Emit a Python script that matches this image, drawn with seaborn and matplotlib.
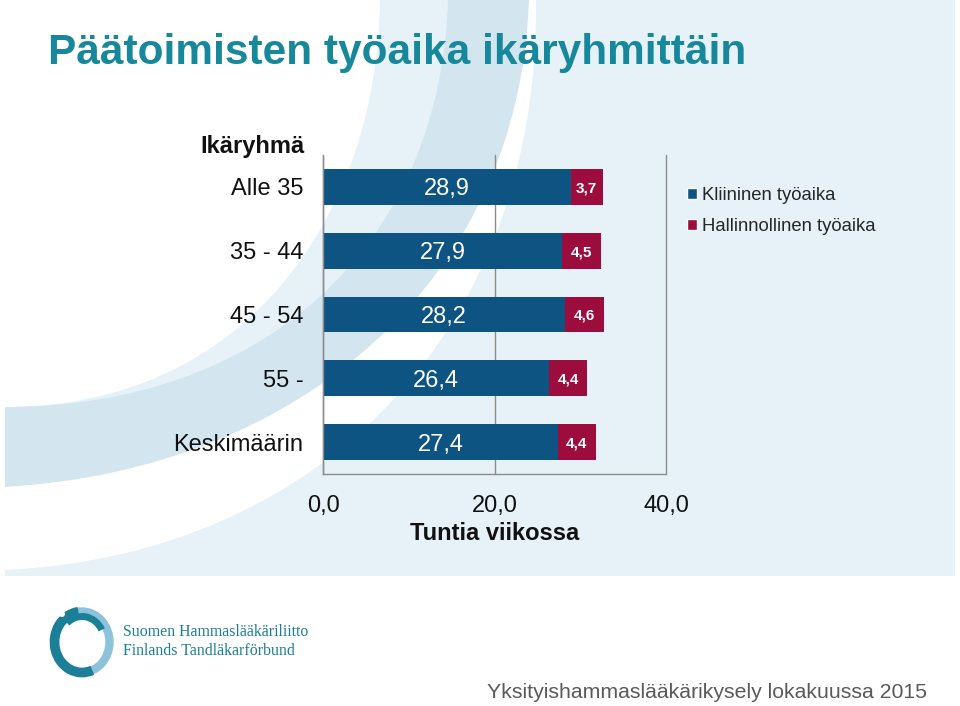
import numpy as np
import pandas as pd
import matplotlib
matplotlib.use("Agg")
import matplotlib.pyplot as plt
import seaborn as sns
from matplotlib.path import Path
from matplotlib.patches import PathPatch, Rectangle, Ellipse, Arc, Patch
from matplotlib.ticker import FuncFormatter, FixedLocator

# ---- data ----
categories = ["Alle 35", "35 - 44", "45 - 54", "55 -", "Keskimäärin"]
clinical = [28.9, 27.9, 28.2, 26.4, 27.4]
admin = [3.7, 4.5, 4.6, 4.4, 4.4]
series_names = ["Kliininen työaika", "Hallinnollinen työaika"]
x_ticks = [0, 20, 40]

title = "Päätoimisten työaika ikäryhmittäin"
y_title = "Ikäryhmä"
x_title = "Tuntia viikossa"
footer = "Yksityishammaslääkärikysely lokakuussa 2015"
org_lines = ["Suomen Hammaslääkäriliitto", "Finlands Tandläkarförbund"]

BLUE = "#0d5483"
RED = "#9c0c3d"
TEAL = "#17889b"
GRID = "#8c8c8c"

sns.set_style("white")
plt.rcParams["font.family"] = ["Liberation Sans", "DejaVu Sans"]

W, H = 960, 706
fig = plt.figure(figsize=(W / 100, H / 100), dpi=100)
fig.patch.set_facecolor("white")


def P(x, y):
    return (x / W, 1 - y / H)


def add_shape(verts, codes, color, z=-10):
    path = Path([P(*v) for v in verts], codes)
    patch = PathPatch(path, facecolor=color, edgecolor="none",
                      transform=fig.transFigure, zorder=z)
    fig.add_artist(patch)


M, C, L, CL = Path.MOVETO, Path.CURVE4, Path.LINETO, Path.CLOSEPOLY

# background panel
fig.add_artist(Rectangle(P(5, 576), 950 / W, 576 / H, facecolor="#e6f1f8",
                         edgecolor="none", transform=fig.transFigure, zorder=-12))
# white area top-left (left of curve A)
add_shape([(5, 0), (380, 0), (378, 210), (250, 407), (5, 407), (5, 0)],
          [M, L, C, C, C, CL], "white", z=-11)
# darker band between B and C
add_shape([(448, 0), (529, 0), (520, 280), (300, 470), (5, 487),
           (5, 407), (260, 407), (440, 250), (448, 0)],
          [M, L, C, C, C, L, C, C, C], "#d3e6f0", z=-10)
# white crescent between C and D
add_shape([(529, 0), (536, 0), (540, 330), (320, 555), (5, 570),
           (5, 487), (300, 470), (520, 280), (529, 0)],
          [M, L, C, C, C, L, C, C, C], "white", z=-9)

# ---- chart ----
df = pd.DataFrame({"Ikäryhmä": categories, "Kliininen": clinical,
                   "Hallinnollinen": admin})
df["Yhteensä"] = df["Kliininen"] + df["Hallinnollinen"]

ax = fig.add_axes([323 / W, 1 - 474 / H, 343 / W, 319 / H])
ax.patch.set_alpha(0)

sns.barplot(data=df, x="Yhteensä", y="Ikäryhmä", color=RED, width=0.56,
            saturation=1, orient="h", errorbar=None, linewidth=0, ax=ax)
sns.barplot(data=df, x="Kliininen", y="Ikäryhmä", color=BLUE, width=0.56,
            saturation=1, orient="h", errorbar=None, linewidth=0, ax=ax)

fmt = lambda v: f"{v:.1f}".replace(".", ",")
blabels = ax.bar_label(ax.containers[1], labels=[fmt(v) for v in clinical],
                       label_type="center", color="white", fontsize=17)
for t in blabels:
    t.set_va("center_baseline")
for i, (c, a) in enumerate(zip(clinical, admin)):
    ax.text(c + a / 2, i, fmt(a), ha="center", va="center_baseline",
            color="white", fontsize=11, fontweight="bold")

ax.set_xlim(0, 40)
ax.set_ylim(len(categories) - 0.5, -0.5)
ax.xaxis.set_major_locator(FixedLocator(x_ticks))
ax.xaxis.set_major_formatter(FuncFormatter(lambda v, p: fmt(v)))
ax.xaxis.grid(True, color=GRID, linewidth=1)
ax.yaxis.grid(False)
ax.set_axisbelow(True)
for gl in ax.get_xgridlines():
    gl.set_clip_on(False)

for s in ["top", "right"]:
    ax.spines[s].set_visible(False)
for s in ["left", "bottom"]:
    ax.spines[s].set_color(GRID)
    ax.spines[s].set_linewidth(1)

ax.tick_params(axis="x", which="major", direction="out", length=6, width=1,
               color=GRID, labelsize=17, pad=9, labelcolor="#111111")
ax.tick_params(axis="y", which="major", length=0, labelsize=17, pad=14,
               labelcolor="#111111")
ax.yaxis.set_minor_locator(FixedLocator(np.arange(-0.5, len(categories), 1.0)))
ax.tick_params(axis="y", which="minor", direction="out", length=6, width=1,
               color=GRID)

ax.set_ylabel(y_title, rotation=0, fontsize=17, fontweight="bold",
              ha="right", va="center", color="#111111")
ax.yaxis.set_label_coords(-18 / 343, (474 - 147) / 319)
ax.set_xlabel(x_title, fontsize=17, fontweight="bold", color="#111111")
ax.xaxis.label.set_va("center")
ax.xaxis.set_label_coords(0.5, (474 - 534) / 319)

handles = [Patch(facecolor=BLUE), Patch(facecolor=RED)]
ax.legend(handles=handles, labels=series_names, loc="center left",
          bbox_to_anchor=P(687, 211), bbox_transform=fig.transFigure,
          frameon=False, fontsize=13.3, handlelength=0.55, handleheight=0.55,
          handletextpad=0.25, labelspacing=0.72, borderaxespad=0, borderpad=0)

# ---- title & footer ----
fig.text(*P(48, 53), title, fontsize=30.5, fontweight="bold", color=TEAL,
         ha="left", va="center")
fig.text(*P(927, 692), footer, fontsize=15.3, color="#5a5a5a",
         ha="right", va="center")

# logo
cx, cy = P(82, 642)
fig.add_artist(Ellipse((cx, cy), 55 / W, 61 / H, facecolor="none",
                       edgecolor="#8cc2da", linewidth=6,
                       transform=fig.transFigure, zorder=5))
fig.add_artist(Arc((cx, cy), 55 / W, 61 / H, theta1=95, theta2=285,
                   edgecolor="#1b7f97", linewidth=7,
                   transform=fig.transFigure, zorder=6))
fig.add_artist(Arc((cx, cy), 45 / W, 51 / H, theta1=40, theta2=120,
                   edgecolor="#1b7f97", linewidth=5,
                   transform=fig.transFigure, zorder=6))
fig.add_artist(Ellipse(P(62, 614), 6 / W, 6 / H, facecolor="white",
                       edgecolor="none", transform=fig.transFigure, zorder=7))
fig.text(*P(123, 632), org_lines[0], fontsize=11.4, color="#1b7f97",
         ha="left", va="center", family=["Liberation Serif", "DejaVu Serif"])
fig.text(*P(123, 651), org_lines[1], fontsize=11.4, color="#1b7f97",
         ha="left", va="center", family=["Liberation Serif", "DejaVu Serif"])

fig.savefig("out.png", dpi=100)
